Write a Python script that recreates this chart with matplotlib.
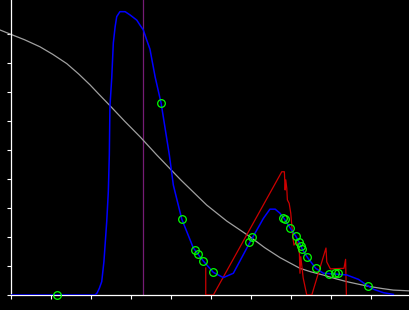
import matplotlib
matplotlib.use("Agg")
import matplotlib.pyplot as plt

# Gray smooth decreasing curve
gray_x = [-0.27, 0.0, 0.35, 0.73, 1.05, 1.4, 1.7, 1.98, 2.2, 2.48, 2.85, 3.23, 3.65, 4.25, 4.9,
          5.4, 5.98, 6.35, 6.73, 7.23, 7.5, 7.81, 8.1, 8.4, 8.7, 8.98, 9.3, 9.56, 10.0]
gray_y = [9.14, 8.99, 8.80, 8.56, 8.30, 7.98, 7.62, 7.25, 6.93, 6.53, 5.99, 5.46, 4.83, 3.97, 3.10,
          2.55, 2.01, 1.63, 1.29, 0.92, 0.80, 0.69, 0.57, 0.46, 0.37, 0.29, 0.22, 0.17, 0.14]

# Blue density-like curve
blue_x = [0.0, 2.11, 2.16, 2.215, 2.275, 2.33, 2.365, 2.40, 2.44, 2.465, 2.48, 2.525, 2.565, 2.61,
          2.65, 2.73, 2.86, 2.98, 3.15, 3.23, 3.315, 3.40, 3.48, 3.61, 3.76, 3.965, 4.065, 4.275,
          4.565, 4.815, 5.065, 5.315, 5.565, 5.98, 6.315, 6.48, 6.61, 6.73, 6.83, 6.98, 7.125,
          7.215, 7.30, 7.415, 7.625, 7.815, 8.15, 8.40, 8.69, 8.90, 9.065, 9.315, 9.565]
blue_y = [0.0, 0.0, 0.07, 0.23, 0.46, 1.15, 1.84, 2.53, 3.56, 4.83, 6.49, 7.48, 8.69, 9.25,
          9.60, 9.77, 9.77, 9.66, 9.48, 9.31, 9.14, 8.79, 8.48, 7.52, 6.61, 4.83, 3.79, 2.62,
          1.62, 1.17, 0.78, 0.60, 0.75, 1.82, 2.64, 2.96, 2.96, 2.82, 2.64, 2.32, 2.03,
          1.80, 1.55, 1.30, 0.92, 0.75, 0.72, 0.69, 0.54, 0.34, 0.20, 0.08, 0.02]

# Red sawtooth line
red_x = [4.875, 4.875, 5.065, 6.775, 6.84, 6.86, 6.875, 6.90, 6.915, 6.96, 7.0, 7.05, 7.08,
         7.15, 7.215, 7.23, 7.25, 7.31, 7.40, 7.525, 7.88, 7.90, 7.99, 8.33, 8.37, 8.39]
red_y = [0.93, 0.0, 0.0, 4.25, 4.25, 3.62, 3.97, 3.68, 3.28, 3.16, 2.82, 2.01, 1.72,
         1.84, 1.44, 0.75, 1.32, 0.59, 0.0, 0.0, 1.62, 1.14, 0.90, 0.92, 1.23, 0.0]

# Green circle markers
pts_x = [1.165, 3.757, 4.275, 4.607, 4.69, 4.815, 5.065, 5.965, 6.04, 6.815, 6.857, 6.98,
         7.125, 7.21, 7.25, 7.29, 7.415, 7.625, 7.965, 8.11, 8.175, 8.94]
pts_y = [0.0, 6.61, 2.62, 1.55, 1.43, 1.17, 0.78, 1.82, 1.99, 2.67, 2.62, 2.32,
         2.04, 1.84, 1.69, 1.58, 1.30, 0.92, 0.72, 0.75, 0.75, 0.31]

vline_x = 3.3

fig = plt.figure(figsize=(4.1, 3.1), dpi=100, facecolor="black")
ax = fig.add_axes([10.7 / 410, 15 / 310, 399.3 / 410, 295 / 310])
ax.set_facecolor("black")

ax.axvline(vline_x, color="#761c76", lw=0.9, zorder=1)
ax.plot(gray_x, gray_y, color="#a0a0a0", lw=0.9, clip_on=False, zorder=2)
ax.plot(red_x, red_y, color="#cc0000", lw=0.9, zorder=3)
ax.plot(blue_x, blue_y, color="#0000ff", lw=1.1, zorder=4)
ax.plot(pts_x, pts_y, linestyle="none", marker="o", markersize=5.5,
        markerfacecolor="none", markeredgecolor="#00ff00", markeredgewidth=0.9,
        clip_on=False, zorder=5)

ax.set_xlim(0, 9.98)
ax.set_ylim(0, 295 / 29)
ax.set_xticks(range(0, 10))
ax.set_yticks(range(0, 10))
ax.set_xticklabels([])
ax.set_yticklabels([])
ax.tick_params(colors="white", direction="out", length=3, width=0.8)
for s in ["top", "right"]:
    ax.spines[s].set_visible(False)
for s in ["left", "bottom"]:
    ax.spines[s].set_color("white")
    ax.spines[s].set_linewidth(0.9)

fig.savefig("out.png", dpi=100, facecolor="black")
